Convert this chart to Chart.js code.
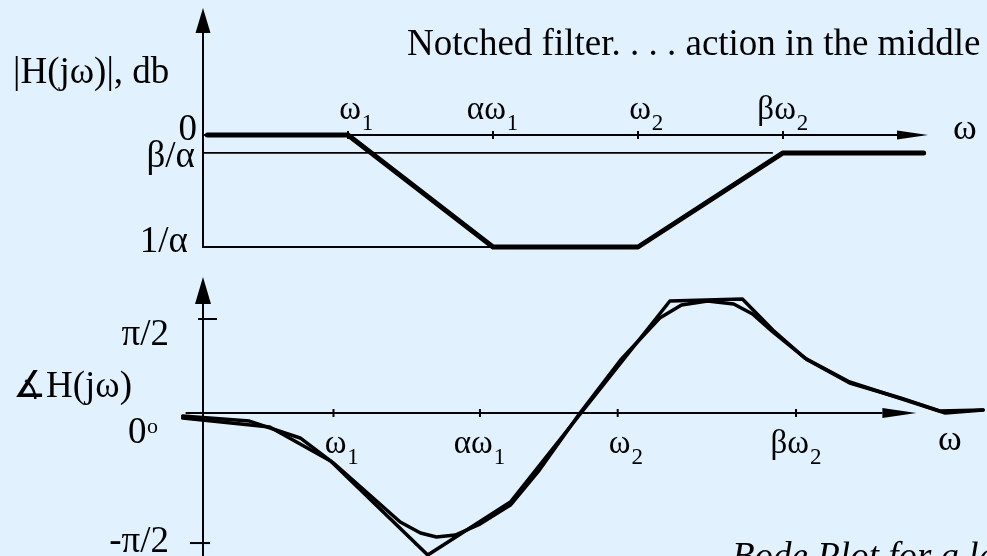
<!DOCTYPE html>
<html>
<head>
<meta charset="utf-8">
<title>Notched filter - Bode plot</title>
<script src="https://cdn.jsdelivr.net/npm/chart.js@4.4.1/dist/chart.umd.min.js"></script>
<style>
  html, body { margin: 0; padding: 0; background: #e1f2fe; }
  #wrap { position: relative; width: 987px; height: 556px; overflow: hidden; }
</style>
</head>
<body>
<div id="wrap"><canvas id="bode" width="987" height="556"></canvas></div>
<script>
// frequency runs in "breakpoint" units: 0 at the vertical axis, w1 = 1, a*w1 = 2, w2 = 3, b*w2 = 4

// magnitude (dB) - straight line approximation
const magFreq = [0.03, 1, 2, 3, 4, 4.97];
const magDb = [0, 0, -20, -20, -3.2, -3.2];

// horizontal guide levels on the magnitude plot
const magLevels = [0, -3.2, -20];
const magLevelLabels = ['0', 'β/α', '1/α'];
const magLevelEnds = [null, 3.93, 2];

// break frequencies marked on the magnitude axis
const magTicks = [1, 2, 3, 4];
const freqLabels = [['ω', '1'], ['αω', '1'], ['ω', '2'], ['βω', '2']];

// phase (degrees) - asymptotic approximation
const asymFreq = [-0.14, 0.46, 0.88, 1.55, 2.12, 3.22, 3.72, 3.93, 4.15, 4.46, 5.12, 5.38];
const asymDeg = [-4.8, -13.4, -46, -136, -85.2, 107.2, 109.2, 79.5, 52.7, 29.7, 0, 2.9];

// phase (degrees) - actual response
const phaseFreq = [-0.14, 0.32, 0.67, 0.9, 1.15, 1.36, 1.5, 1.61, 1.74, 1.91, 2.12, 2.32, 2.6,
  2.88, 3.15, 3.3, 3.48, 3.66, 3.79, 3.93, 4.17, 4.46, 4.81, 5.08, 5.38];
const phaseDeg = [-2.9, -7.7, -23.9, -47.9, -78.5, -104.4, -114.9, -118.7, -116.8, -106.3, -88.1,
  -54.6, 0, 50.7, 91, 103.4, 107.2, 104.4, 94.8, 77.6, 50.7, 28.7, 14.4, 1.9, 2.9];

// break frequencies marked on the phase axis
const phaseTicks = [0.9, 1.91, 2.86, 4.09];
const phaseLevels = [90, -124.5];
const phaseLevelLabels = ['π/2', '-π/2'];

const serif = '"Liberation Serif", "Times New Roman", serif';

function pts(xs, ys) {
  return xs.map((x, i) => ({ x: x, y: ys[i] }));
}

function drawArrow(ctx, x1, y1, x2, y2, len, half) {
  const a = Math.atan2(y2 - y1, x2 - x1);
  const bx = x2 - len * Math.cos(a), by = y2 - len * Math.sin(a);
  ctx.beginPath();
  ctx.moveTo(x1, y1);
  ctx.lineTo(bx, by);
  ctx.stroke();
  ctx.beginPath();
  ctx.moveTo(x2, y2);
  ctx.lineTo(bx + half * Math.sin(a), by - half * Math.cos(a));
  ctx.lineTo(bx - half * Math.sin(a), by + half * Math.cos(a));
  ctx.closePath();
  ctx.fill();
}

// omega label centred on its tick, subscript trailing
function drawFreqLabel(ctx, main, sub, cx, base) {
  ctx.font = '33px ' + serif;
  const w = ctx.measureText(main).width;
  const wo = ctx.measureText('ω').width;
  const left = cx - (w - wo / 2);
  ctx.textAlign = 'left';
  ctx.fillText(main, left, base);
  ctx.font = '23px ' + serif;
  ctx.fillText(sub, left + w + 1, base + 11);
}

const axesPlugin = {
  id: 'bodeAxes',
  beforeDatasetsDraw(chart) {
    const ctx = chart.ctx;
    const x = chart.scales.x, ym = chart.scales.yMag, yp = chart.scales.yPh;
    ctx.save();
    ctx.strokeStyle = '#000';
    ctx.fillStyle = '#000';
    ctx.lineWidth = 2;
    ctx.lineCap = 'butt';

    // --- magnitude plot ---
    const x0 = x.getPixelForValue(0);
    const y0 = ym.getPixelForValue(0);
    drawArrow(ctx, x0, ym.getPixelForValue(-20) + 1, x0, ym.getPixelForValue(22.7), 25, 7.5);
    drawArrow(ctx, x0, y0, x.getPixelForValue(5.0), y0, 31, 4.5);
    magTicks.forEach(t => {
      const px = x.getPixelForValue(t);
      ctx.beginPath();
      ctx.moveTo(px, y0 - 4);
      ctx.lineTo(px, y0 + 4);
      ctx.stroke();
    });
    ctx.lineWidth = 1.8;
    magLevels.forEach((v, i) => {
      if (magLevelEnds[i] === null) return;
      const py = ym.getPixelForValue(v);
      ctx.beginPath();
      ctx.moveTo(x0, py);
      ctx.lineTo(x.getPixelForValue(magLevelEnds[i]), py);
      ctx.stroke();
    });

    // --- phase plot ---
    ctx.lineWidth = 2;
    const p0 = yp.getPixelForValue(0);
    drawArrow(ctx, x0, chart.height, x0, yp.getPixelForValue(130.2), 27, 8);
    drawArrow(ctx, x.getPixelForValue(-0.12), p0, x.getPixelForValue(4.92), p0, 34, 5);
    phaseTicks.forEach(t => {
      const px = x.getPixelForValue(t);
      ctx.beginPath();
      ctx.moveTo(px, p0 - 4);
      ctx.lineTo(px, p0 + 4);
      ctx.stroke();
    });
    const levelSpan = [[-5, 14], [-13, 7]];
    phaseLevels.forEach((v, i) => {
      const py = yp.getPixelForValue(v);
      ctx.beginPath();
      ctx.moveTo(x0 + levelSpan[i][0], py);
      ctx.lineTo(x0 + levelSpan[i][1], py);
      ctx.stroke();
    });
    ctx.restore();
  },
  afterDatasetsDraw(chart) {
    const ctx = chart.ctx;
    const x = chart.scales.x, ym = chart.scales.yMag, yp = chart.scales.yPh;
    const x0 = x.getPixelForValue(0);
    const y0 = ym.getPixelForValue(0);
    const p0 = yp.getPixelForValue(0);
    const big = '37px ' + serif;
    ctx.save();
    ctx.fillStyle = '#000';
    ctx.textBaseline = 'alphabetic';

    // title and axis names
    ctx.font = big;
    ctx.textAlign = 'left';
    ctx.fillText('Notched filter. . . . action in the middle', 407, 55);
    ctx.fillText('|H(jω)|, db', 13, 83);
    ctx.fillText('∡H(jω)', 13, p0 - 16);
    ctx.fillText('0', 128, p0 + 30);
    ctx.font = '36px ' + serif;
    ctx.fillText('ω', 953, y0 + 4);
    ctx.fillText('ω', 938, p0 + 37);
    ctx.font = '22px ' + serif;
    ctx.fillText('o', 147, p0 + 20);

    // level labels left of the vertical axes
    ctx.font = big;
    ctx.textAlign = 'right';
    const levelDrop = [5, 14, 5];
    const levelShift = [6, 8, 15];
    magLevels.forEach((v, i) => {
      ctx.fillText(magLevelLabels[i], x0 - levelShift[i], ym.getPixelForValue(v) + levelDrop[i]);
    });
    const phaseDrop = [26, 9];
    phaseLevels.forEach((v, i) => {
      ctx.fillText(phaseLevelLabels[i], x0 - 34, yp.getPixelForValue(v) + phaseDrop[i]);
    });

    // break frequency labels
    magTicks.forEach((t, i) => {
      drawFreqLabel(ctx, freqLabels[i][0], freqLabels[i][1], x.getPixelForValue(t) + 2, y0 - 16);
    });
    phaseTicks.forEach((t, i) => {
      drawFreqLabel(ctx, freqLabels[i][0], freqLabels[i][1], x.getPixelForValue(t) + 2, p0 + 40);
    });

    ctx.font = 'italic ' + big;
    ctx.textAlign = 'left';
    ctx.fillText('Bode Plot for a lead-lag network', 732, 568);
    ctx.restore();
  }
};

const lineStyle = {
  borderColor: '#000',
  pointRadius: 0,
  tension: 0,
  borderCapStyle: 'round',
  borderJoinStyle: 'round',
  fill: false
};

new Chart(document.getElementById('bode'), {
  type: 'line',
  data: {
    datasets: [
      Object.assign({ label: 'magnitude', data: pts(magFreq, magDb), borderWidth: 5,
        xAxisID: 'x', yAxisID: 'yMag' }, lineStyle),
      Object.assign({ label: 'phase asymptote', data: pts(asymFreq, asymDeg), borderWidth: 3.5,
        xAxisID: 'x', yAxisID: 'yPh' }, lineStyle),
      Object.assign({ label: 'phase', data: pts(phaseFreq, phaseDeg), borderWidth: 3.5,
        xAxisID: 'x', yAxisID: 'yPh' }, lineStyle)
    ]
  },
  options: {
    responsive: false,
    animation: false,
    layout: { padding: 0 },
    plugins: { legend: { display: false }, tooltip: { enabled: false } },
    scales: {
      x: { type: 'linear', min: -1.4, max: 5.407, display: false },
      yMag: { type: 'linear', min: -75.18, max: 24.107, display: false },
      yPh: { type: 'linear', min: -136.9, max: 395.4, display: false }
    }
  },
  plugins: [axesPlugin]
});
</script>
</body>
</html>
